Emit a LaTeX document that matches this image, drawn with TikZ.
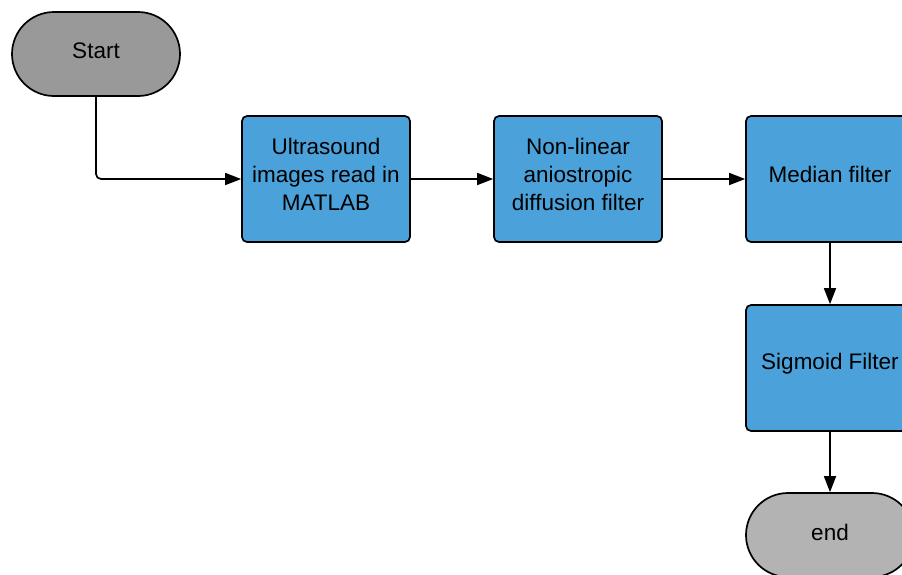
\documentclass[tikz,border=0pt]{standalone}
\usepackage{fontspec}
\setmainfont{Liberation Sans}
\usetikzlibrary{shapes.misc,arrows.meta}
\definecolor{stepblue}{HTML}{4BA2DB}
\definecolor{startgray}{HTML}{999999}
\definecolor{endgray}{HTML}{B3B3B3}

\begin{document}
\begin{tikzpicture}[x=1pt,y=-1pt,
  every node/.style={font=\fontsize{22.5}{28}\selectfont, align=center},
  proc/.style={draw, line width=1.7pt, fill=stepblue, rounded corners=5pt,
    minimum width=168pt, minimum height=126pt, inner sep=0pt, text depth=10pt},
  term/.style={draw, line width=1.7pt, rounded rectangle,
    minimum width=168pt, minimum height=84pt, inner sep=0pt, text depth=6pt},
  flow/.style={line width=1.7pt, -{Triangle[length=16pt,width=12pt]}}]
\useasboundingbox (0,0) rectangle (902,574);
\clip (0,0) rectangle (902,574);

% start and end
\node[term, fill=startgray] (start) at (96,54) {Start};
\node[term, fill=endgray] (end) at (830,535) {end};

% processing steps
\node[proc] (read) at (326,179) {Ultrasound\\images read in\\MATLAB};
\node[proc] (diffusion) at (578,179) {Non-linear\\aniostropic\\diffusion filter};
\node[proc] (median) at (830,179) {Median filter};
\node[proc, text depth=13pt] (sigmoid) at (830,368) {Sigmoid Filter};

\draw[flow, rounded corners=5pt] (start.south) |- (read.west);
\draw[flow] (read) -- (diffusion);
\draw[flow] (diffusion) -- (median);
\draw[flow] (median) -- (sigmoid);
\draw[flow] (sigmoid) -- (end);
\end{tikzpicture}
\end{document}
